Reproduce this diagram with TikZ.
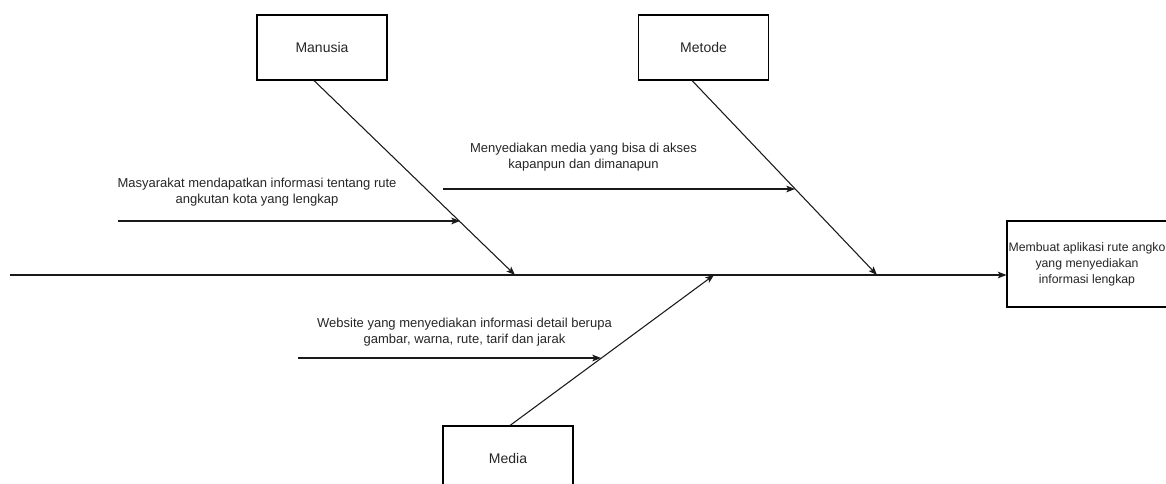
\documentclass[tikz,border=0pt]{standalone}
\usepackage{fontspec}
\setmainfont{Liberation Sans}
\usetikzlibrary{arrows.meta}
\begin{document}
\begin{tikzpicture}[x=0.75pt,y=-0.75pt,
  line/.style={draw=black!90, line width=0.8pt},
  arr/.style={line, -{Stealth[length=6.5pt,width=5pt,inset=1.5pt]}},
  causebox/.style={draw=black, line width=0.8pt, fill=white, inner sep=0pt,
    minimum width=97.5pt, minimum height=48.75pt, font=\fontsize{10.5}{12.5}\selectfont,
    text=black!85},
  goalbox/.style={draw=black, line width=0.8pt, fill=white, inner sep=0pt,
    minimum width=124.5pt, minimum height=64.5pt},
  goaltext/.style={align=center, inner sep=0pt, font=\fontsize{9.2}{12}\selectfont, text=black!85},
  note/.style={align=center, inner sep=0pt, font=\fontsize{9.75}{12}\selectfont, text=black!85}]
\useasboundingbox (0,0) rectangle (1166,484);
\clip (0,0) rectangle (1166,484);

% category boxes and the effect box
\node[causebox] (manusia) at (322,47.5) {Manusia};
\node[causebox] (metode) at (703.5,47.5) {Metode};
\node[causebox] (media) at (508,458.5) {Media};
\node[goalbox] (goal) at (1090,264) {};
\node[goaltext] (goallabel) at (1087,264) {Membuat aplikasi rute angko\\yang menyediakan\\informasi lengkap};

% spine
\coordinate (tail) at (10,275);
\draw[arr] (tail) -- (tail -| goal.west);

% bones meeting the spine
\coordinate (jm) at (515,275);
\coordinate (jt) at (877,275);
\coordinate (jd) at (714,275);
\draw[arr] ([xshift=-6pt]manusia.south) -- (jm);
\draw[arr] ([xshift=-8.6pt]metode.south) -- (jt);
\draw[arr] ([xshift=1.5pt]media.north) -- (jd);

% sub-causes
\coordinate (a1) at (118,221);
\coordinate (b1) at (460,221);
\draw[arr] (a1) -- (b1);
\node[note] (n1) at (257,192.5) {Masyarakat mendapatkan informasi tentang rute\\angkutan kota yang lengkap};

\coordinate (a2) at (443,189);
\coordinate (b2) at (795,189);
\draw[arr] (a2) -- (b2);
\node[note] (n2) at (583.5,157) {Menyediakan media yang bisa di akses\\kapanpun dan dimanapun};

\coordinate (a3) at (298,358);
\coordinate (b3) at (601,358);
\draw[arr] (a3) -- (b3);
\node[note] (n3) at (464.5,332) {Website yang menyediakan informasi detail berupa\\gambar, warna, rute, tarif dan jarak};
\end{tikzpicture}
\end{document}
